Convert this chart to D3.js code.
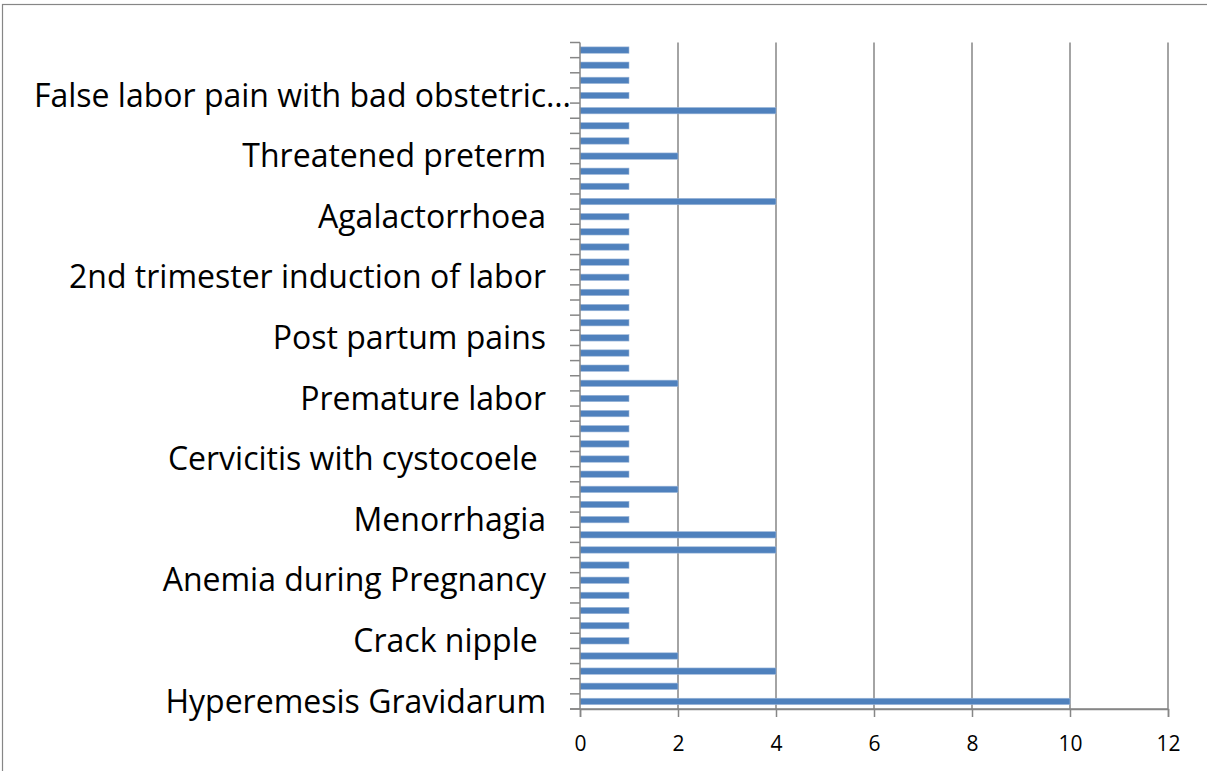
<!DOCTYPE html>
<html>
<head>
<meta charset="utf-8">
<script src="https://cdn.jsdelivr.net/npm/d3@7"></script>
<style>
  body { margin: 0; background: #fff; }
  svg { display: block; }
  text { font-family: "Open Sans", Lato, sans-serif; fill: #000; }
</style>
</head>
<body>
<div id="chart"></div>
<script>
// categories bottom to top; only every 4th one is labelled in the chart
const categories = [
  "Hyperemesis Gravidarum", "", "", "",
  "Crack nipple ", "", "", "",
  "Anemia during Pregnancy", "", "", "",
  "Menorrhagia", "", "", "",
  "Cervicitis with cystocoele ", "", "", "",
  "Premature labor", "", "", "",
  "Post partum pains", "", "", "",
  "2nd trimester induction of labor", "", "", "",
  "Agalactorrhoea", "", "", "",
  "Threatened preterm", "", "", "",
  "False labor pain with bad obstetric…", "", "", ""
];
const values = [
  10, 2, 4, 2,
  1, 1, 1, 1,
  1, 1, 4, 4,
  1, 1, 2, 1,
  1, 1, 1, 1,
  1, 2, 1, 1,
  1, 1, 1, 1,
  1, 1, 1, 1,
  1, 4, 1, 1,
  2, 1, 1, 4,
  1, 1, 1, 1
];
const xTicks = [0, 2, 4, 6, 8, 10, 12];

const width = 1207, height = 771;
const margin = { left: 580, right: 40, top: 42.5, bottom: 62 };

const svg = d3.select('#chart').append('svg')
  .attr('width', width)
  .attr('height', height);

// chart border
svg.append('rect')
  .attr('x', 2.5).attr('y', 4.5)
  .attr('width', width + 20).attr('height', height + 20)
  .attr('fill', 'none')
  .attr('stroke', '#868686')
  .attr('stroke-width', 1.2);

const idx = d3.range(categories.length);

const x = d3.scaleLinear()
  .domain([0, 12])
  .range([margin.left, 1168]);

const y = d3.scaleBand()
  .domain(idx.slice().reverse())
  .range([margin.top, height - margin.bottom])
  .paddingInner(0.58)
  .paddingOuter(0.29);

const plotBottom = height - margin.bottom;

// vertical gridlines
svg.append('g')
  .selectAll('line')
  .data(xTicks.filter(d => d > 0))
  .enter()
  .append('line')
  .attr('x1', d => x(d)).attr('x2', d => x(d))
  .attr('y1', margin.top).attr('y2', plotBottom)
  .style('stroke', '#868686')
  .style('stroke-width', 1.5);

// bars
svg.append('g')
  .selectAll('rect')
  .data(idx)
  .enter()
  .append('rect')
  .attr('x', x(0))
  .attr('y', i => y(i))
  .attr('width', i => x(values[i]) - x(0))
  .attr('height', y.bandwidth())
  .attr('fill', '#4F81BD')
  .attr('stroke', '#9DB7D9')
  .attr('stroke-width', 0.6);

// x axis
const xAxis = svg.append('g')
  .attr('transform', `translate(0,${plotBottom})`)
  .call(d3.axisBottom(x).tickValues(xTicks).tickSize(8).tickPadding(19).tickFormat(d3.format('d')));
xAxis.select('.domain').attr('stroke', '#868686').attr('stroke-width', 1.5);
xAxis.selectAll('.tick line').attr('stroke', '#868686').attr('stroke-width', 1.5);
xAxis.selectAll('.tick text')
  .style('font-size', '21px')
  .style('font-family', '"Open Sans", Lato, sans-serif');

// y axis: line, tick marks at category boundaries, labels at centres
const step = y.step();
const yAxis = svg.append('g');
yAxis.append('line')
  .attr('x1', x(0)).attr('x2', x(0))
  .attr('y1', margin.top).attr('y2', plotBottom)
  .style('stroke', '#868686')
  .style('stroke-width', 1.5);
yAxis.append('line')
  .attr('x1', x(0) - 10).attr('x2', x(12))
  .attr('y1', plotBottom).attr('y2', plotBottom)
  .style('stroke', '#868686')
  .style('stroke-width', 1.5);
yAxis.selectAll('line.tick')
  .data(d3.range(categories.length + 1))
  .enter()
  .append('line')
  .attr('class', 'tick')
  .attr('x1', x(0) - 10).attr('x2', x(0))
  .attr('y1', k => margin.top + k * step)
  .attr('y2', k => margin.top + k * step)
  .style('stroke', '#868686')
  .style('stroke-width', 1.5);

// truncated label spills to the right, as Excel draws it
yAxis.selectAll('text')
  .data(idx.filter(i => categories[i] !== ''))
  .enter()
  .append('text')
  .attr('x', i => categories[i].endsWith('…') ? 571 : 546)
  .attr('y', i => y(i) + y.bandwidth() / 2)
  .attr('dy', '0.35em')
  .attr('text-anchor', 'end')
  .attr('xml:space', 'preserve')
  .style('white-space', 'pre')
  .style('font-size', '32px')
  .text(i => categories[i]);
</script>
</body>
</html>
